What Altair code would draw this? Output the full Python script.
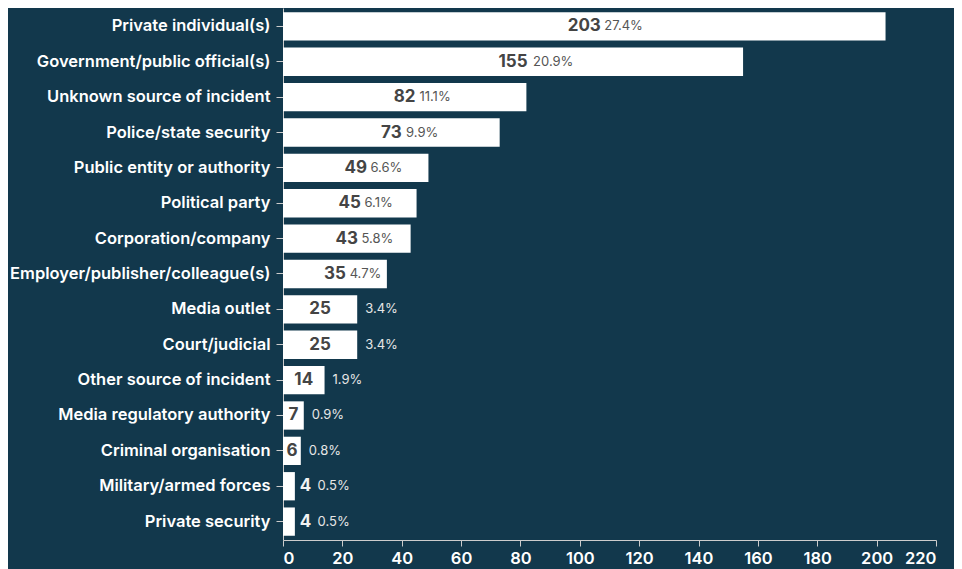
import altair as alt
import pandas as pd

categories = [
    "Private individual(s)", "Government/public official(s)", "Unknown source of incident",
    "Police/state security", "Public entity or authority", "Political party",
    "Corporation/company", "Employer/publisher/colleague(s)", "Media outlet",
    "Court/judicial", "Other source of incident", "Media regulatory authority",
    "Criminal organisation", "Military/armed forces", "Private security",
]
counts = [203, 155, 82, 73, 49, 45, 43, 35, 25, 25, 14, 7, 6, 4, 4]
pcts = ["27.4%", "20.9%", "11.1%", "9.9%", "6.6%", "6.1%", "5.8%", "4.7%",
        "3.4%", "3.4%", "1.9%", "0.9%", "0.8%", "0.5%", "0.5%"]
x_ticks = list(range(0, 221, 20))

W, H = 653, 532
XMAX = 220
ppu = W / XMAX

rows = []
for c, n, p in zip(categories, counts, pcts):
    bar_px = n * ppu
    cw = len(str(n)) * 10.7
    pw = sum(7.8 if ch.isdigit() else (3.5 if ch == "." else 10) for ch in p)
    count_in = bar_px >= cw + 6
    if count_in:
        cx = n / 2
        pstart = bar_px / 2 + cw / 2 + 4
        pct_in = pstart + pw <= bar_px - 4
        px = pstart / ppu if pct_in else (bar_px + 8) / ppu
    else:
        cx = n + 5 / ppu
        pct_in = False
        px = (bar_px + 5 + cw + 7) / ppu
    rows.append(dict(cat=c, count=n, pct=p, cx=cx, px=px,
                     count_in=count_in, pct_in=pct_in))
df = pd.DataFrame(rows)

base = alt.Chart(df)
y = alt.Y("cat:N", sort=categories, title=None,
          scale=alt.Scale(paddingInner=0.2, paddingOuter=0.12))

bars = base.mark_bar(color="white").encode(
    x=alt.X("count:Q", title=None,
            scale=alt.Scale(domain=[0, XMAX], nice=False),
            axis=alt.Axis(values=x_ticks, grid=False)),
    y=y,
)

count_in = base.transform_filter("datum.count_in").mark_text(
    align="center", baseline="middle", font="Inter", fontSize=17,
    fontWeight="bold", color="#444444"
).encode(x="cx:Q", y=y, text="count:Q")

count_out = base.transform_filter("!datum.count_in").mark_text(
    align="left", baseline="middle", font="Inter", fontSize=17,
    fontWeight="bold", color="#f2f2f2"
).encode(x="cx:Q", y=y, text="count:Q")

pct_in = base.transform_filter("datum.pct_in").mark_text(
    align="left", baseline="middle", font="Inter", fontSize=13,
    color="#555555"
).encode(x="px:Q", y=y, text="pct:N")

pct_out = base.transform_filter("!datum.pct_in").mark_text(
    align="left", baseline="middle", font="Inter", fontSize=13,
    color="#e6e6e6"
).encode(x="px:Q", y=y, text="pct:N")

chart = alt.layer(bars, count_in, count_out, pct_in, pct_out).properties(
    width=W, height=H,
    autosize=alt.AutoSizeParams(type="none"),
    padding={"left": 275, "top": 0, "right": 18, "bottom": 29},
    background="#12384c",
).configure_view(stroke=None).configure_axisY(
    labelColor="white", labelFont="Inter", labelFontSize=16.5, labelFontWeight=600,
    tickColor="#cccccc", domainColor="#cccccc", tickSize=7, labelPadding=6,
    labelLimit=400,
).configure_axisX(
    labelColor="white", labelFont="Inter", labelFontSize=16.5, labelFontWeight=600,
    tickColor="#cccccc", domainColor="#cccccc", tickSize=6, labelPadding=4,
)

chart.save("out.html", embed_options={"renderer": "svg", "actions": False})
